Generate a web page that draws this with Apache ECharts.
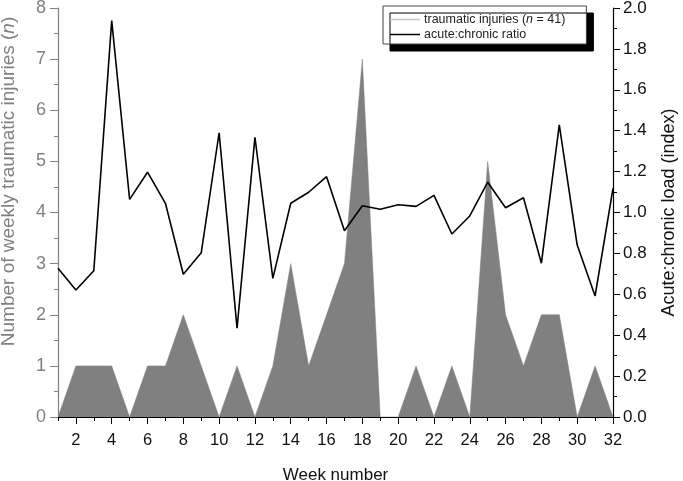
<!DOCTYPE html>
<html>
<head>
<meta charset="utf-8">
<script src="https://cdn.jsdelivr.net/npm/echarts@6/dist/echarts.min.js"></script>
<style>html,body{margin:0;padding:0;background:#fff}#c{width:683px;height:481px}</style>
</head>
<body>
<div id="c"></div>
<script>
var weeks = [1,2,3,4,5,6,7,8,9,10,11,12,13,14,15,16,17,18,19,20,21,22,23,24,25,26,27,28,29,30,31,32];
var injuries = [0,1,1,1,0,1,1,2,1,0,1,0,1,3,1,2,3,7,0,0,1,0,1,0,5,2,1,2,2,0,1,0];
var acwr = [0.727,0.621,0.715,1.938,1.064,1.197,1.045,0.698,0.803,1.390,0.434,1.368,0.678,1.045,1.099,1.175,0.911,1.033,1.016,1.038,1.030,1.084,0.895,0.983,1.148,1.023,1.072,0.752,1.428,0.841,0.592,1.118];
var injuriesName = 'traumatic injuries';
var ratioName = 'acute:chronic ratio';

var chart = echarts.init(document.getElementById('c'), null, {renderer: 'canvas'});
var font = 'Liberation Sans, Arial, sans-serif';
var cats = weeks.map(String);
chart.setOption({
  animation: false,
  textStyle: {fontFamily: font},
  grid: {left: 58, right: 70, top: 8, bottom: 64, outerBoundsMode: 'none', containLabel: false},
  legend: {
    orient: 'vertical', left: 383, top: 6,
    padding: [7, 21, 3, 7], itemGap: 2,
    itemWidth: 30, itemHeight: 1.5,
    backgroundColor: '#fff', borderColor: '#444', borderWidth: 1,
    shadowColor: '#000', shadowBlur: 0, shadowOffsetX: 7, shadowOffsetY: 7,
    textStyle: {fontSize: 12.5, color: '#222', fontFamily: font, padding: [0,0,0,-1],
      rich: {i: {fontStyle: 'italic', fontSize: 12.5, fontFamily: font, color: '#222'}}},
    formatter: function (n) { return n === injuriesName ? 'traumatic injuries ({i|n} = 41)' : n; },
    data: [
      {name: injuriesName, icon: 'rect', itemStyle: {color: '#c4c4c4'}},
      {name: ratioName, icon: 'rect', itemStyle: {color: '#000'}}
    ]
  },
  xAxis: [{
    type: 'category', data: cats, boundaryGap: false,
    name: 'Week number', nameLocation: 'middle', nameGap: 50,
    nameTextStyle: {fontSize: 17, color: '#111', fontFamily: font},
    axisLine: {lineStyle: {color: '#000', width: 1.2}},
    axisTick: {interval: 0, length: 4, lineStyle: {color: '#000'}},
    axisLabel: {interval: function (i, v) { return (+v) % 2 === 0; }, fontSize: 16.5, color: '#111', margin: 15, fontFamily: font},
    splitLine: {show: false}
  }, {
    type: 'category', data: cats, boundaryGap: false, position: 'bottom',
    axisLine: {show: false},
    axisTick: {interval: function (i, v) { return (+v) % 2 === 0; }, length: 7, lineStyle: {color: '#000'}},
    axisLabel: {show: false}, splitLine: {show: false}
  }],
  yAxis: [{
    type: 'value', min: 0, max: 8, interval: 1, position: 'left',
    name: 'Number of weekly traumatic injuries ({i|n})', nameLocation: 'middle', nameGap: 40, nameRotate: 90,
    nameTextStyle: {fontSize: 19, color: '#808080', fontFamily: font, padding: [0, 0, 0, 62],
      rich: {i: {fontStyle: 'italic', fontSize: 19, color: '#808080', fontFamily: font}}},
    axisLine: {show: true, lineStyle: {color: '#808080', width: 1.2}},
    axisTick: {show: true, length: 8, lineStyle: {color: '#808080'}},
    minorTick: {show: true, splitNumber: 2, length: 4, lineStyle: {color: '#808080'}},
    axisLabel: {fontSize: 18, color: '#808080', margin: 12, fontFamily: font},
    splitLine: {show: false}
  }, {
    type: 'value', min: 0, max: 2, interval: 0.2, position: 'right',
    name: 'Acute:chronic load (index)', nameLocation: 'middle', nameGap: 47, nameRotate: 90,
    nameTextStyle: {fontSize: 18, color: '#111', fontFamily: font},
    axisLine: {show: true, lineStyle: {color: '#000', width: 1.2}},
    axisTick: {show: true, length: 7, lineStyle: {color: '#000'}},
    minorTick: {show: true, splitNumber: 2, length: 4, lineStyle: {color: '#000'}},
    axisLabel: {fontSize: 17, color: '#111', margin: 10, fontFamily: font,
      formatter: function (v) { return v.toFixed(1); }},
    splitLine: {show: false}
  }],
  series: [{
    name: injuriesName, type: 'line', data: injuries, xAxisIndex: 0, yAxisIndex: 0,
    symbol: 'none', lineStyle: {color: '#808080', width: 0.5},
    itemStyle: {color: '#c4c4c4'},
    areaStyle: {color: '#808080', opacity: 1}, z: 2
  }, {
    name: ratioName, type: 'line', data: acwr, xAxisIndex: 0, yAxisIndex: 1,
    symbol: 'none', lineStyle: {color: '#000', width: 1.6},
    itemStyle: {color: '#000'}, z: 3
  }]
});
</script>
</body>
</html>
